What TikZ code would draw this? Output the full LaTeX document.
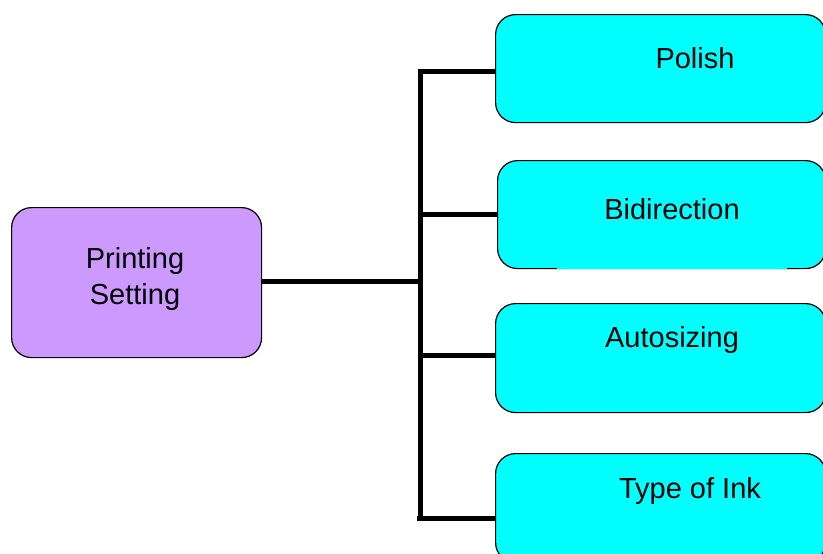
\documentclass[tikz,border=0pt]{standalone}
\usepackage{fontspec}
\setmainfont{Liberation Sans}
\definecolor{boxcyan}{HTML}{00FFFF}
\definecolor{boxpurple}{HTML}{CC99FF}
\begin{document}
\begin{tikzpicture}[x=1pt,y=-1pt,
  rbox/.style={draw=black,line width=1.2pt,rounded corners=20pt,inner sep=0pt,anchor=north west},
  lbl/.style={font=\fontsize{29}{36}\selectfont,align=center,inner sep=0pt},
  conn/.style={line width=5pt,line cap=rect}]
\useasboundingbox (0,0) rectangle (823,554);
% boxes
\node[rbox,fill=boxpurple,minimum width=250pt,minimum height=150pt] (ps) at (11,207) {};
\node[rbox,fill=boxcyan,minimum width=330pt,minimum height=108pt] (polish) at (495,14) {};
\node[rbox,fill=boxcyan,minimum width=328pt,minimum height=108pt] (bidir) at (497,160) {};
\node[rbox,fill=boxcyan,minimum width=330pt,minimum height=109pt] (auto) at (495,303) {};
\node[rbox,fill=boxcyan,minimum width=330pt,minimum height=109pt] (ink) at (495,453) {};
\draw[boxcyan,line width=2pt] (557,268) -- (787,268);
% labels
\node[lbl] (pst) at (135,279) {Printing\\Setting};
\node[lbl] (polisht) at (695,58) {Polish};
\node[lbl] (bidirt) at (672,209) {Bidirection};
\node[lbl] (autot) at (672,340) {Autosizing};
\node[lbl] (inkt) at (690,491) {Type of Ink};
% connectors
\coordinate (t1) at (420,71);
\coordinate (tm) at (420,281);
\coordinate (t2) at (420,214);
\coordinate (t3) at (420,355);
\coordinate (t4) at (420,518);
\draw[conn] (t1) -- (t4);
\draw[conn,line cap=butt] (ps.east |- tm) -- (tm);
\draw[conn,line cap=butt] (t1) -- (t1 -| polish.west);
\draw[conn,line cap=butt] (t2) -- (t2 -| bidir.west);
\draw[conn,line cap=butt] (t3) -- (t3 -| auto.west);
\draw[conn,line cap=butt] ([xshift=-3pt]t4) -- (t4 -| ink.west);
\end{tikzpicture}
\end{document}
